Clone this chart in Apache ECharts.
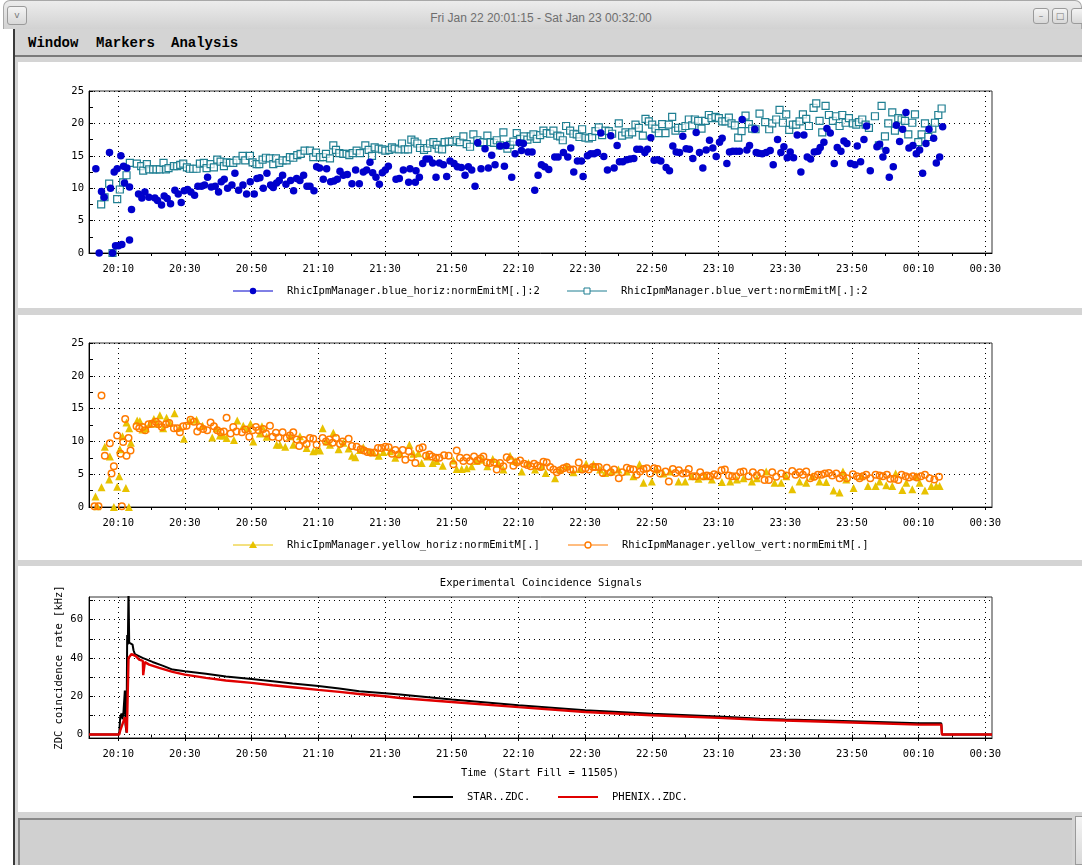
<!DOCTYPE html>
<html>
<head>
<meta charset="utf-8">
<script src="https://cdn.jsdelivr.net/npm/echarts@6/dist/echarts.min.js"></script>
<style>
  html, body { margin:0; padding:0; width:1082px; height:865px; overflow:hidden; background:#fff; }
  .abs { position:absolute; }
  #titlebar { left:3px; top:0; width:1079px; height:29px; background:linear-gradient(#ececec,#d2d2d2); border:1px solid #a8a8a8; border-bottom:none; border-radius:7px 7px 0 0; box-sizing:border-box; }
  #titletext { left:0; top:0; width:1082px; height:30px; line-height:37px; text-align:center; font-family:"Liberation Sans", sans-serif; font-size:12px; color:#6e6e6e; }
  .btn { background:linear-gradient(#f4f4f4,#d8d8d8); border:1px solid #9a9a9a; border-radius:3px; box-sizing:border-box; font-family:"DejaVu Sans",sans-serif; font-size:9px; color:#777; text-align:center; }
  #menubar { left:15px; top:29px; width:1067px; height:28px; background:#d4d4d4; border-bottom:2px solid #7a7a7a; box-sizing:border-box; }
  .menu { top:35px; font-family:"Liberation Mono", monospace; font-weight:bold; font-size:14px; color:#000; }
  #leftline { left:13px; top:29px; width:2px; height:836px; background:#3a3a3a; }
  #content { left:15px; top:57px; width:1067px; height:808px; background:#d4d4d4; }
  .panel { left:18px; width:1064px; background:#fff; }
  #bottombox { left:18px; top:818px; width:1054px; height:47px; background:#d0d0d0; border-top:2px solid #888; border-left:2px solid #888; box-sizing:border-box; }
  #chart { left:0; top:0; width:1082px; height:865px; }
</style>
</head>
<body>
<div class="abs" id="titlebar"></div>
<div class="abs" id="titletext">Fri Jan 22 20:01:15 - Sat Jan 23 00:32:00</div>
<div class="abs btn" style="left:7px;top:6px;width:20px;height:19px;line-height:17px;">v</div>
<div class="abs btn" style="left:1033px;top:8px;width:16px;height:16px;line-height:14px;">&#8211;</div>
<div class="abs btn" style="left:1052px;top:8px;width:16px;height:16px;line-height:14px;">&#9633;</div>
<div class="abs btn" style="left:1071px;top:8px;width:16px;height:16px;"></div>
<div class="abs" id="leftline"></div>
<div class="abs" id="content"></div>
<div class="abs" id="menubar"></div>
<div class="abs menu" style="left:28px;">Window</div>
<div class="abs menu" style="left:96px;">Markers</div>
<div class="abs menu" style="left:171px;">Analysis</div>
<div class="abs panel" style="top:62px;height:246px;"></div>
<div class="abs panel" style="top:315px;height:245px;"></div>
<div class="abs panel" style="top:566px;height:246px;"></div>
<div class="abs" id="bottombox"></div>
<div class="abs btn" style="left:1075px;top:816px;width:10px;height:49px;border-radius:0;"></div>
<div class="abs" id="chart"></div>
<script>
// ---- time axis (minutes after 20:00) ----
const axisStart = 1.25;   // 20:01:15
const axisEnd = 272;      // 00:32:00
const xTickLabels = ['20:10','20:30','20:50','21:10','21:30','21:50','22:10','22:30','22:50','23:10','23:30','23:50','00:10','00:30'];
const xLabelMinutes = [10,30,50,70,90,110,130,150,170,190,210,230,250,270];
const xMinorTickMinutes = [10,20,30,40,50,60,70,80,90,100,110,120,130,140,150,160,170,180,190,200,210,220,230,240,250,260,270];
const zdcLabelValues = [0,20,40,60];
const zdcTickValues = [0,10,20,30,40,50,60,70];

// ---- panel 1: blue ring emittances [t(min after 20:00), value] ----
const blueHoriz = [[3.3,13.0],[4.3,0],[5.0,9.5],[5.8,8.6],[7.4,15.5],[7.7,10.0],[8.3,0],[8.8,12.5],[9.2,1.1],[9.7,13.0],[10.1,1.1],[10.8,15.0],[11.1,1.3],[11.6,13.4],[11.9,10.8],[12.6,13.1],[13.4,2.0],[13.4,10.2],[14.0,6.7],[16.1,9.1],[17.1,8.5],[18.0,9.4],[19.2,8.6],[21.0,8.5],[21.8,8.1],[23.0,7.4],[23.8,8.8],[24.7,8.4],[25.7,7.6],[27.0,9.7],[28.0,9.1],[28.9,7.8],[29.8,9.6],[30.8,9.8],[31.8,9.4],[32.9,8.9],[33.9,10.3],[35.0,10.3],[35.9,10.5],[36.8,11.7],[37.9,10.2],[39.1,10.3],[40.1,9.4],[40.9,11.0],[41.8,11.4],[42.8,10.0],[44.1,10.5],[45.0,12.3],[46.1,9.7],[47.4,10.5],[48.5,9.1],[49.6,11.0],[50.8,9.1],[51.6,11.5],[52.5,11.6],[53.5,10.0],[54.6,12.3],[55.7,10.5],[56.5,10.1],[57.5,10.8],[58.3,11.2],[59.3,12.0],[60.3,10.6],[61.7,11.2],[62.6,9.6],[63.5,11.5],[64.5,11.2],[65.6,12.0],[66.6,10.3],[67.5,10.3],[68.7,9.6],[69.5,13.3],[70.4,13.1],[71.5,11.4],[72.5,13.0],[73.7,11.0],[74.7,11.1],[75.7,11.4],[76.5,12.6],[77.5,12.0],[78.7,12.1],[80.1,10.7],[81.2,12.8],[82.3,10.7],[83.5,12.5],[84.5,12.8],[85.5,14.0],[86.3,12.4],[87.3,11.7],[88.3,10.6],[89.2,12.4],[90.1,12.8],[91.0,13.4],[93.3,11.4],[94.3,11.5],[95.5,12.8],[97.1,10.9],[97.5,13.0],[99.1,10.9],[99.3,12.7],[100.3,11.7],[101.3,13.8],[102.3,14.5],[103.3,14.5],[104.3,13.9],[105.3,11.7],[106.3,13.9],[107.5,13.6],[108.5,11.8],[109.5,14.2],[110.7,13.8],[111.7,13.3],[112.9,13.2],[114.0,12.0],[115.0,13.3],[116.0,12.8],[117.0,10.3],[117.8,17.0],[118.8,13.0],[120.0,16.1],[121.0,13.1],[122.0,15.1],[123.0,13.6],[124.5,16.5],[125.8,13.4],[126.3,16.6],[128.0,11.7],[129.0,15.3],[130.2,17.0],[130.9,15.8],[131.5,16.9],[132.9,15.6],[134.1,15.6],[134.9,9.7],[135.9,12.0],[136.9,13.6],[137.9,13.3],[139.1,12.9],[140.9,14.8],[141.9,14.8],[143.5,15.5],[144.8,14.8],[145.7,16.2],[146.6,12.5],[147.7,14.2],[148.9,14.2],[149.4,11.8],[150.7,15.0],[151.7,15.3],[152.7,15.3],[153.7,15.5],[154.7,18.5],[155.6,14.9],[156.7,12.8],[157.7,18.1],[158.7,13.1],[159.6,16.6],[160.3,14.1],[161.3,14.1],[162.5,14.4],[163.5,14.5],[164.6,14.6],[165.5,16.0],[166.5,16.0],[167.9,15.5],[168.7,16.0],[169.7,17.8],[170.7,14.3],[171.7,14.4],[172.7,14.2],[174.3,13.2],[175.3,12.7],[176.3,16.5],[177.3,15.6],[178.3,15.5],[179.3,18.0],[180.3,16.1],[181.3,16.0],[182.3,14.6],[183.3,18.6],[184.3,15.5],[185.3,13.1],[186.3,15.9],[187.3,17.4],[188.3,16.2],[189.3,14.9],[190.3,17.1],[191.1,17.7],[192.5,13.8],[193.3,15.6],[194.3,15.7],[195.3,15.7],[196.3,15.7],[197.1,20.6],[198.5,15.9],[199.3,16.6],[200.9,19.1],[201.3,15.5],[202.0,15.4],[203.1,15.3],[204.3,15.5],[205.5,15.8],[206.4,13.6],[207.7,17.5],[208.7,15.5],[209.6,16.4],[210.6,14.7],[211.5,15.6],[212.5,14.7],[213.6,18.2],[214.7,12.5],[215.6,18.2],[216.6,14.8],[217.6,14.5],[218.7,15.6],[219.8,15.7],[220.5,16.3],[221.6,17.1],[222.5,19.2],[223.5,18.5],[224.7,13.8],[225.6,16.3],[226.7,15.7],[227.6,17.3],[228.5,16.9],[229.6,13.8],[230.9,13.6],[231.6,16.5],[232.6,14.1],[233.6,17.5],[234.4,19.6],[235.5,12.7],[237.5,16.4],[238.3,16.8],[239.3,14.8],[240.2,15.8],[241.2,11.7],[242.4,13.3],[243.3,19.7],[244.3,17.2],[245.2,19.1],[246.2,21.7],[247.1,16.2],[248.3,16.6],[249.3,15.3],[250.3,15.9],[251.2,12.3],[252.2,16.9],[253.1,19.1],[254.5,17.7],[255.3,13.9],[256.3,14.8],[257.2,19.5]];

const blueVert = [[4.9,7.5],[5.9,8.6],[7.3,10.7],[8.3,0],[9.7,8.3],[10.5,9.8],[11.5,10.9],[12.5,12.0],[13.5,13.9],[15.6,13.8],[16.9,13.4],[17.5,12.7],[18.6,13.7],[19.3,12.9],[20.5,12.9],[21.5,12.9],[22.5,12.9],[23.6,13.9],[24.3,12.9],[25.1,13.1],[26.7,13.4],[27.7,13.4],[28.6,13.6],[29.5,13.8],[30.6,13.2],[31.5,13.0],[32.5,13.0],[33.5,13.0],[34.5,13.8],[35.7,13.9],[36.5,13.1],[37.7,13.7],[38.7,13.2],[39.7,14.4],[40.7,14.1],[41.7,13.4],[42.5,14.0],[43.5,13.9],[44.5,13.9],[45.5,14.3],[47.3,15.0],[48.1,14.3],[49.5,15.0],[50.3,14.0],[51.5,13.7],[52.3,13.7],[53.3,14.4],[54.3,14.7],[55.5,14.6],[56.5,13.7],[57.3,14.6],[58.3,13.9],[59.3,14.3],[60.5,14.3],[61.5,14.8],[62.5,14.7],[63.7,15.1],[64.7,15.3],[65.9,15.8],[67.5,15.8],[68.5,14.8],[69.3,15.5],[70.5,14.8],[71.5,14.8],[72.3,15.3],[73.5,14.6],[74.5,16.6],[75.3,15.9],[76.3,15.4],[77.5,15.3],[78.5,15.3],[79.3,15.1],[80.3,15.4],[81.5,15.8],[82.5,15.4],[84.1,16.6],[85.1,15.9],[86.1,15.0],[86.9,16.3],[88.1,16.1],[89.1,16.0],[90.1,15.8],[91.3,15.9],[92.1,16.3],[92.9,16.1],[94.1,16.0],[95.1,16.9],[95.9,16.0],[96.9,16.0],[97.9,17.5],[98.9,17.2],[99.7,16.9],[100.5,16.2],[101.7,15.9],[102.7,16.2],[103.5,16.9],[104.5,17.1],[105.5,16.7],[106.1,16.1],[107.1,16.0],[107.9,17.1],[109.1,17.2],[110.1,17.2],[111.5,17.4],[112.5,17.1],[113.5,18.0],[114.5,16.8],[115.5,16.4],[116.5,18.3],[117.7,17.4],[118.5,17.0],[119.5,17.1],[120.7,18.1],[121.7,17.1],[122.7,17.0],[123.5,17.4],[124.5,16.6],[125.5,18.6],[126.7,16.1],[127.5,16.7],[128.5,17.2],[129.5,18.5],[130.5,17.6],[131.7,18.0],[132.7,17.5],[133.7,18.0],[134.5,18.3],[135.5,17.6],[136.5,18.2],[137.5,18.9],[138.5,18.5],[139.5,18.4],[140.5,18.9],[141.7,18.1],[142.5,18.0],[143.3,17.4],[144.3,19.6],[145.5,18.9],[146.5,18.4],[147.5,18.3],[148.3,17.9],[149.1,19.1],[150.1,17.8],[151.1,17.7],[152.1,17.9],[153.1,18.8],[154.1,19.4],[155.1,18.2],[156.1,18.9],[157.1,18.8],[158.1,18.4],[160.1,20.0],[161.1,18.1],[162.1,18.6],[163.1,18.3],[164.1,18.6],[165.1,19.8],[166.1,19.3],[167.3,18.1],[168.1,20.7],[169.1,20.3],[170.1,19.8],[171.1,19.2],[172.1,18.5],[173.1,19.9],[174.1,18.5],[175.1,19.8],[176.1,21.0],[177.1,18.9],[177.9,19.3],[179.1,19.3],[180.1,19.6],[181.1,20.6],[182.1,19.7],[182.9,20.6],[183.9,20.4],[184.9,19.2],[186.1,20.4],[187.1,21.3],[187.9,20.8],[189.1,21.0],[190.1,20.8],[191.1,20.3],[192.1,20.3],[193.1,20.9],[193.9,20.0],[194.9,19.7],[195.9,17.8],[196.9,18.8],[198.1,21.2],[199.1,19.9],[200.1,19.2],[201.1,19.1],[202.3,21.5],[204.0,20.2],[205.2,19.1],[206.1,20.0],[207.3,20.6],[208.3,22.1],[209.3,20.1],[210.3,21.4],[211.2,19.0],[212.3,19.8],[213.3,19.8],[214.3,20.3],[215.3,21.4],[216.3,20.7],[217.1,19.6],[218.5,22.4],[219.3,23.1],[220.3,20.4],[221.1,18.6],[222.1,22.7],[223.1,21.3],[224.3,20.4],[225.3,21.1],[226.3,19.6],[227.1,21.3],[228.1,20.1],[229.1,20.8],[230.3,20.0],[231.3,19.8],[232.1,20.2],[233.1,20.6],[234.1,19.8],[235.1,19.3],[236.9,21.1],[238.1,16.6],[238.9,22.7],[239.9,18.0],[240.9,20.0],[242.1,21.7],[242.9,18.9],[243.9,20.8],[244.9,20.6],[245.9,20.4],[246.9,18.3],[248.1,20.1],[248.9,21.4],[249.9,17.1],[250.9,18.3],[251.9,20.0],[252.9,17.9],[254.1,19.2],[254.9,20.1],[255.9,21.3],[256.9,22.3]];

// ---- panel 2: yellow ring emittances ----
const yellowHoriz = [[3.2,1.6],[3.7,0.1],[5.0,3.0],[6.0,9.2],[7.3,4.2],[7.5,7.7],[8.7,0],[9.7,3.1],[10.3,4.7],[10.5,8.8],[11.3,10.8],[12.3,2.9],[12.5,12.9],[13.2,0],[13.3,12.0],[13.8,9.8],[15.7,13.2],[16.5,13.1],[17.3,11.8],[18.3,12.0],[19.5,12.7],[20.7,13.4],[21.7,12.7],[22.5,14.0],[23.5,12.0],[24.5,13.6],[25.5,12.8],[26.9,14.3],[28.5,12.1],[29.7,10.4],[31.5,13.1],[33.5,13.3],[35.3,12.4],[38.2,10.6],[39.5,12.0],[40.5,10.9],[41.5,10.9],[42.5,10.5],[44.7,10.2],[45.7,13.2],[47.5,12.4],[49.0,12.0],[49.7,12.7],[50.5,10.0],[52.5,11.2],[53.1,12.3],[54.5,10.7],[57.5,9.5],[58.5,9.5],[60.1,9.2],[61.5,10.8],[62.5,9.5],[64.5,10.8],[66.5,9.0],[68.5,8.5],[69.5,8.7],[70.5,8.6],[71.3,12.0],[72.5,10.0],[73.5,9.5],[74.5,11.3],[76.1,8.8],[77.5,9.8],[79.1,8.9],[80.1,7.8],[81.1,7.6],[82.5,8.7],[83.5,9.1],[85.5,8.4],[86.5,8.3],[88.1,7.8],[89.5,8.4],[91.5,8.5],[93.1,7.5],[94.5,8.2],[97.3,9.5],[98.5,8.1],[100.0,8.2],[101.0,6.7],[102.7,7.7],[104.3,6.7],[105.5,7.0],[107.3,6.3],[110.5,7.1],[111.5,5.8],[113.0,5.8],[114.5,5.9],[116.0,6.2],[117.5,7.0],[119.0,7.2],[120.7,6.2],[122.3,7.3],[124.1,6.6],[125.5,5.7],[127.5,7.8],[129.0,7.0],[131.0,5.4],[133.0,6.7],[135.0,5.7],[137.0,6.2],[138.2,5.2],[141.0,4.4],[142.5,5.7],[144.5,6.2],[146.5,5.3],[148.5,5.8],[150.3,6.6],[152.5,6.5],[154.5,5.7],[156.0,5.2],[158.0,5.4],[160.0,5.7],[162.5,5.4],[164.5,4.7],[166.3,6.5],[167.5,3.7],[170.0,3.9],[171.5,5.7],[173.5,5.1],[175.5,5.4],[178.0,3.9],[180.0,3.9],[182.0,4.7],[184.0,4.3],[186.0,4.7],[188.0,4.2],[191.0,3.8],[193.5,3.9],[195.5,4.2],[197.5,4.4],[200.0,3.9],[201.5,4.4],[204.3,5.4],[206.8,3.7],[208.8,3.7],[210.3,4.7],[212.1,2.7],[214.3,3.9],[216.3,3.7],[218.1,4.7],[220.3,3.9],[222.3,3.8],[224.5,2.5],[226.3,2.2],[227.3,5.4],[228.3,4.2],[230.5,2.9],[232.8,4.7],[234.8,3.2],[237.1,3.2],[238.3,3.9],[240.3,3.3],[242.1,3.2],[243.1,5.1],[245.1,2.6],[246.3,3.7],[248.1,2.7],[249.3,4.7],[250.3,3.7],[251.9,2.5],[253.8,3.2],[255.3,3.2],[256.3,3.2]];

const yellowVert = [[2.9,0.1],[4.1,0.1],[5.0,17.0],[6.0,7.8],[7.5,9.7],[8.0,5.1],[8.7,6.2],[9.7,10.9],[10.7,8.1],[11.1,0.1],[11.5,9.9],[12.1,13.4],[12.5,7.8],[13.1,10.5],[13.7,8.6],[15.5,12.3],[16.3,12.0],[17.3,12.2],[18.1,11.7],[19.1,12.6],[20.1,12.7],[21.3,13.0],[22.1,12.6],[23.1,12.2],[24.3,12.6],[25.3,12.8],[26.7,12.0],[27.7,12.0],[28.5,11.4],[29.5,12.3],[30.5,12.4],[31.7,13.3],[32.7,13.0],[33.7,11.5],[34.5,12.2],[35.5,11.9],[36.7,11.7],[37.7,12.9],[38.7,12.3],[39.7,11.7],[40.7,11.4],[41.7,11.5],[42.5,13.6],[43.7,11.2],[44.5,12.2],[45.5,11.5],[47.1,11.4],[48.1,11.8],[49.3,10.7],[50.3,11.7],[51.3,12.2],[52.1,11.7],[53.5,11.9],[54.3,11.2],[55.5,12.4],[56.3,10.7],[57.3,11.3],[58.1,10.6],[59.3,11.4],[60.5,10.5],[61.5,10.9],[62.5,11.4],[63.5,10.3],[64.3,9.3],[65.5,10.2],[66.5,9.6],[67.5,10.5],[68.5,10.4],[69.5,9.5],[71.3,10.5],[72.3,10.0],[73.3,10.3],[74.3,9.8],[75.3,10.5],[76.5,9.6],[77.3,10.0],[79.1,10.4],[80.1,9.3],[81.5,9.2],[82.7,8.8],[83.7,8.6],[84.7,8.4],[85.7,8.3],[86.9,8.3],[87.9,9.0],[88.9,9.0],[90.1,9.2],[91.1,9.1],[92.1,8.1],[93.1,8.7],[94.1,8.0],[95.3,8.7],[96.1,7.2],[97.1,8.5],[97.9,7.6],[99.1,6.7],[100.3,8.9],[101.3,9.1],[102.3,7.8],[103.3,8.0],[104.1,7.7],[105.3,7.5],[106.3,7.5],[107.7,7.9],[109.1,7.8],[110.5,6.5],[111.5,8.6],[112.5,7.5],[113.5,7.0],[114.5,7.5],[115.5,7.0],[116.7,7.7],[117.7,7.1],[118.7,7.4],[119.5,7.7],[120.5,6.8],[121.5,6.7],[122.7,6.8],[123.5,5.7],[124.5,6.7],[125.5,6.2],[126.5,7.6],[127.5,7.2],[128.5,6.3],[129.5,6.8],[130.5,7.1],[131.7,6.6],[132.7,6.4],[133.7,6.2],[134.7,6.6],[135.7,6.3],[136.7,6.1],[137.5,6.9],[138.5,6.8],[139.5,6.1],[140.5,5.7],[141.5,5.3],[142.5,5.6],[143.5,5.9],[144.5,6.1],[145.5,5.7],[146.5,5.7],[148.1,6.8],[149.1,5.7],[150.1,5.9],[151.1,5.7],[152.3,6.1],[153.1,6.1],[154.1,6.1],[155.3,5.2],[156.5,6.0],[157.7,5.3],[158.7,5.7],[160.1,4.4],[161.1,5.3],[162.5,6.0],[163.5,5.8],[164.5,5.7],[165.5,4.9],[166.5,5.4],[167.5,5.8],[168.5,5.9],[169.5,5.1],[170.7,5.9],[171.7,5.8],[172.5,5.1],[174.1,5.4],[175.1,3.9],[176.3,5.8],[177.1,5.2],[178.1,5.6],[179.3,5.1],[180.3,5.2],[181.1,5.8],[182.3,4.7],[183.3,4.7],[184.5,5.3],[185.5,4.7],[186.5,4.8],[187.5,4.7],[188.7,5.0],[189.7,4.8],[190.9,5.6],[191.9,5.7],[193.1,4.8],[194.1,4.7],[195.3,4.7],[196.5,5.3],[197.5,5.4],[199.0,4.7],[200.3,5.3],[201.5,4.8],[202.8,5.2],[203.8,4.1],[205.1,4.1],[206.1,5.3],[207.3,4.6],[208.8,5.1],[210.3,4.8],[212.1,5.5],[213.1,4.9],[214.3,5.3],[215.3,4.9],[216.3,5.4],[217.5,4.4],[218.7,4.6],[219.8,4.9],[220.9,4.9],[221.9,5.1],[223.1,5.2],[224.1,4.8],[225.3,5.1],[226.3,4.4],[227.3,4.8],[228.5,4.4],[230.3,5.0],[231.5,4.7],[232.3,4.4],[233.3,4.7],[234.3,4.9],[235.5,4.4],[237.1,4.9],[238.3,4.8],[239.3,4.7],[240.5,4.9],[241.5,4.3],[242.7,4.3],[243.9,4.1],[244.9,4.9],[246.1,4.7],[247.1,4.5],[248.3,4.7],[249.5,4.5],[250.7,4.7],[251.9,4.9],[253.3,4.4],[254.7,4.2],[256.1,4.6]];

// ---- panel 3: experimental coincidence rates [kHz] ----
const starZdc = [[1.25,0],[10.3,0],[10.6,9],[11.0,11],[11.3,8],[11.6,12],[12.0,23],[12.2,5],[12.5,1],[12.7,52],[12.9,47],[13.1,76],[13.3,48],[13.8,49],[14.3,47],[14.6,44],[15.0,42],[15.3,41.7],[17.3,40.0],[20.3,37.9],[23.3,36.0],[26.3,33.9],[30.0,33.0],[36.3,31.7],[42.3,30.3],[50.0,29.0],[56.3,27.8],[62.3,26.6],[70.0,25.4],[76.3,24.0],[82.3,22.6],[90.0,21.6],[94.5,20.9],[110.0,18.3],[130.0,15.3],[150.0,12.7],[170.0,10.8],[190.0,9.4],[202.5,8.2],[210.0,7.8],[230.0,7.0],[250.0,5.9],[256.8,5.9],[257.0,0],[272.0,0]];
const phenixZdc = [[1.25,0],[10.3,0],[10.6,2],[11.0,4],[11.5,5],[12.0,9],[12.3,6],[12.6,1],[12.9,0],[13.1,40],[13.5,41],[14.0,42],[14.5,41],[15.3,40.9],[16.3,39.1],[17.4,38.4],[17.5,31],[17.9,31],[18.0,37.8],[19.3,36.5],[22.3,34.8],[26.3,32.7],[30.0,31.3],[36.3,29.6],[42.3,28.2],[50.0,27.0],[56.3,25.7],[62.3,24.7],[70.0,23.3],[76.3,22.3],[82.3,21.2],[90.0,20.0],[94.5,19.1],[110.0,17.0],[130.0,14.3],[150.0,11.8],[170.0,10.1],[190.0,8.7],[202.5,7.7],[210.0,7.3],[230.0,6.3],[250.0,5.2],[256.8,5.2],[257.0,0],[272.0,0]];

// ---- styling ----
const MONO = '"DejaVu Sans Mono", monospace';
const FS = 10.5;
const TXT = '#000';
const dotted = { type: [1, 4], color: '#000', width: 1 };
const C_BLUE = '#0000cc', C_TEAL = '#1f7f92', C_GOLD = '#e8c200', C_ORANGE = '#ff7a00';

function xPair(gi) {
  return [
    { type: 'value', gridIndex: gi, min: axisStart, max: axisEnd, position: 'bottom',
      axisLine: { show: true, onZero: false, lineStyle: { color: '#000', width: 1 } },
      axisTick: { show: true, customValues: xLabelMinutes, length: 3, lineStyle: { color: '#000' } },
      axisLabel: { customValues: xLabelMinutes, margin: 11, fontFamily: MONO, fontSize: FS, color: TXT,
        formatter: v => xTickLabels[Math.round((v - 10) / 20)] },
      splitLine: { show: true, lineStyle: dotted } },
    { type: 'value', gridIndex: gi, min: axisStart, max: axisEnd, position: 'bottom',
      axisLine: { show: false }, axisLabel: { show: false }, splitLine: { show: false },
      axisTick: { show: true, customValues: xMinorTickMinutes, length: 3, lineStyle: { color: '#000' } } }
  ];
}
function yEmit(gi) {
  return { type: 'value', gridIndex: gi, min: 0, max: 25, interval: 5,
    axisLine: { show: true, onZero: false, lineStyle: { color: '#000' } },
    axisTick: { show: true, inside: true, length: 4, lineStyle: { color: '#000' } },
    minorTick: { show: true, splitNumber: 2, length: 4, lineStyle: { color: '#000' } },
    axisLabel: { margin: 5, fontFamily: MONO, fontSize: FS, color: TXT },
    splitLine: { show: true, lineStyle: dotted } };
}
const gridBase = { left: 89, width: 903, show: true, borderColor: '#333', borderWidth: 1, backgroundColor: 'transparent' };

function legendItem(x, y, color, symbol, label, lw) {
  const els = [{ type: 'line', shape: { x1: x, y1: y, x2: x + 40, y2: y }, style: { stroke: color, lineWidth: lw || 1 } }];
  const cx = x + 20;
  if (symbol === 'dot') els.push({ type: 'circle', shape: { cx: cx, cy: y, r: 3.2 }, style: { fill: color } });
  if (symbol === 'square') els.push({ type: 'rect', shape: { x: cx - 3, y: y - 3, width: 6, height: 6 }, style: { fill: '#fff', stroke: color, lineWidth: 1 } });
  if (symbol === 'tri') els.push({ type: 'polygon', shape: { points: [[cx, y - 4], [cx - 4, y + 3], [cx + 4, y + 3]] }, style: { fill: color } });
  if (symbol === 'ring') els.push({ type: 'circle', shape: { cx: cx, cy: y, r: 3 }, style: { fill: '#fff', stroke: color, lineWidth: 1.3 } });
  els.push({ type: 'text', x: x + 54, y: y, style: { text: label, fill: TXT, font: FS + 'px ' + MONO, textVerticalAlign: 'middle' } });
  return els;
}

const chart = echarts.init(document.getElementById('chart'), null, { renderer: 'canvas' });
chart.setOption({
  animation: false,
  grid: [
    Object.assign({ top: 91, height: 162 }, gridBase),
    Object.assign({ top: 343, height: 164 }, gridBase),
    Object.assign({ top: 597, height: 141 }, gridBase)
  ],
  xAxis: [].concat(xPair(0), xPair(1), xPair(2)),
  yAxis: [
    yEmit(0), yEmit(1),
    { type: 'value', gridIndex: 2, min: -1.8, max: 71.8,
      name: 'ZDC coincidence rate [kHz]', nameLocation: 'middle', nameRotate: 90, nameGap: 24, nameMoveOverlap: false,
      nameTextStyle: { fontFamily: MONO, fontSize: FS, color: TXT },
      axisLine: { show: true, onZero: false, lineStyle: { color: '#000' } },
      axisTick: { show: true, inside: true, length: 4, customValues: zdcTickValues, lineStyle: { color: '#000' } },
      axisLabel: { customValues: zdcLabelValues, margin: 6, fontFamily: MONO, fontSize: FS, color: TXT },
      splitLine: { show: true, lineStyle: dotted } }
  ],
  series: [
    { name: 'blue_vert', type: 'scatter', xAxisIndex: 0, yAxisIndex: 0, data: blueVert, symbol: 'rect', symbolSize: 7,
      itemStyle: { color: 'rgba(255,255,255,0.7)', borderColor: C_TEAL, borderWidth: 1.2, opacity: 1 }, z: 3 },
    { name: 'blue_horiz', type: 'scatter', xAxisIndex: 0, yAxisIndex: 0, data: blueHoriz, symbol: 'circle', symbolSize: 7.5,
      itemStyle: { color: C_BLUE, opacity: 1 }, z: 4 },
    { name: 'yellow_horiz', type: 'scatter', xAxisIndex: 2, yAxisIndex: 1, data: yellowHoriz, symbol: 'triangle', symbolSize: 8,
      itemStyle: { color: C_GOLD, opacity: 1 }, z: 3 },
    { name: 'yellow_vert', type: 'scatter', xAxisIndex: 2, yAxisIndex: 1, data: yellowVert, symbol: 'circle', symbolSize: 6.5,
      itemStyle: { color: 'rgba(255,255,255,0)', borderColor: C_ORANGE, borderWidth: 1.5, opacity: 1 }, z: 4 },
    { name: 'STAR..ZDC.', type: 'line', xAxisIndex: 4, yAxisIndex: 2, data: starZdc, showSymbol: false, symbol: 'none',
      lineStyle: { color: '#000', width: 2 }, z: 3 },
    { name: 'PHENIX..ZDC.', type: 'line', xAxisIndex: 4, yAxisIndex: 2, data: phenixZdc, showSymbol: false, symbol: 'none',
      lineStyle: { color: '#e00000', width: 2.4 }, z: 4 }
  ],
  graphic: [].concat(
    legendItem(233, 291, C_BLUE, 'dot', 'RhicIpmManager.blue_horiz:normEmitM[.]:2'),
    legendItem(567, 291, C_TEAL, 'square', 'RhicIpmManager.blue_vert:normEmitM[.]:2'),
    legendItem(233, 545, C_GOLD, 'tri', 'RhicIpmManager.yellow_horiz:normEmitM[.]'),
    legendItem(568, 545, C_ORANGE, 'ring', 'RhicIpmManager.yellow_vert:normEmitM[.]'),
    legendItem(413, 797, '#000', 'none', 'STAR..ZDC.', 2),
    legendItem(558, 797, '#e00000', 'none', 'PHENIX..ZDC.', 2),
    [
      { type: 'text', x: 541, y: 583, style: { text: 'Experimental Coincidence Signals', fill: TXT, font: FS + 'px ' + MONO, textAlign: 'center', textVerticalAlign: 'middle' } },
      { type: 'text', x: 540, y: 773, style: { text: 'Time (Start Fill = 11505)', fill: TXT, font: FS + 'px ' + MONO, textAlign: 'center', textVerticalAlign: 'middle' } }
    ]
  )
});
</script>
</body>
</html>
